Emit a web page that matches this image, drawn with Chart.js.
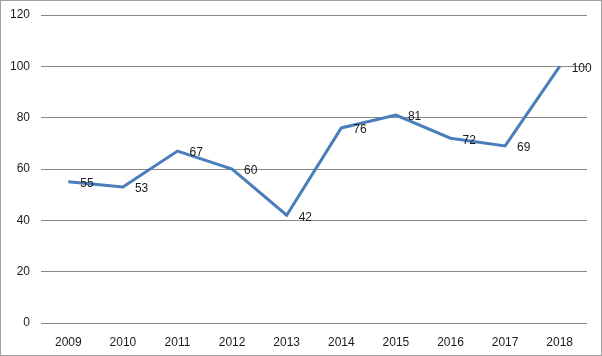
<!DOCTYPE html>
<html><head><meta charset="utf-8">
<script src="https://cdn.jsdelivr.net/npm/chart.js@4"></script>
<style>html,body{margin:0;padding:0;background:#fff;}#wrap{width:602px;height:356px;position:relative;}</style>
</head><body><div id="wrap"><canvas id="c"></canvas></div>
<script>
const categories = ['2009','2010','2011','2012','2013','2014','2015','2016','2017','2018'];
const values = [55,53,67,60,42,76,81,72,69,100];
const yTicks = {min:0, max:120, step:20};

const FONT = {family:'"Liberation Sans", Arial, sans-serif', size:12};

const frame = {
  id:'frame',
  afterDraw(chart){
    const ctx = chart.ctx;
    ctx.save();
    ctx.strokeStyle = '#a0a0a0';
    ctx.lineWidth = 1;
    ctx.strokeRect(0.5,0.5,chart.width-1,chart.height-1);
    ctx.restore();
  }
};
const labels = {
  id:'labels',
  afterDatasetsDraw(chart){
    const ctx = chart.ctx;
    const meta = chart.getDatasetMeta(0);
    ctx.save();
    ctx.font = '12px "Liberation Sans", Arial, sans-serif';
    ctx.fillStyle = '#1a1a1a';
    ctx.textAlign = 'left';
    ctx.textBaseline = 'middle';
    meta.data.forEach((pt,i)=>{
      ctx.fillText(String(chart.data.datasets[0].data[i]), pt.x+12, pt.y+2);
    });
    ctx.restore();
  }
};

new Chart(document.getElementById('c'), {
  type:'line',
  data:{labels:categories, datasets:[{data:values, borderColor:'#4a7ebb', borderWidth:3, pointRadius:0, tension:0, fill:false}]},
  options:{
    responsive:true, maintainAspectRatio:false, animation:false,
    layout:{padding:{top:15,right:15,bottom:0,left:0}},
    plugins:{legend:{display:false}, tooltip:{enabled:false}},
    scales:{
      x:{offset:true, grid:{display:false, drawTicks:false}, border:{display:false},
         ticks:{font:FONT, color:'#1a1a1a', padding:12, maxRotation:0},
         afterFit(s){s.height=33;}},
      y:{min:yTicks.min, max:yTicks.max, grid:{color:'#888888', drawTicks:false}, border:{display:false},
         ticks:{stepSize:yTicks.step, font:FONT, color:'#1a1a1a', padding:11},
         afterFit(s){s.width=41; s.paddingTop=0;}}
    }
  },
  plugins:[frame, labels]
});
</script></body></html>
